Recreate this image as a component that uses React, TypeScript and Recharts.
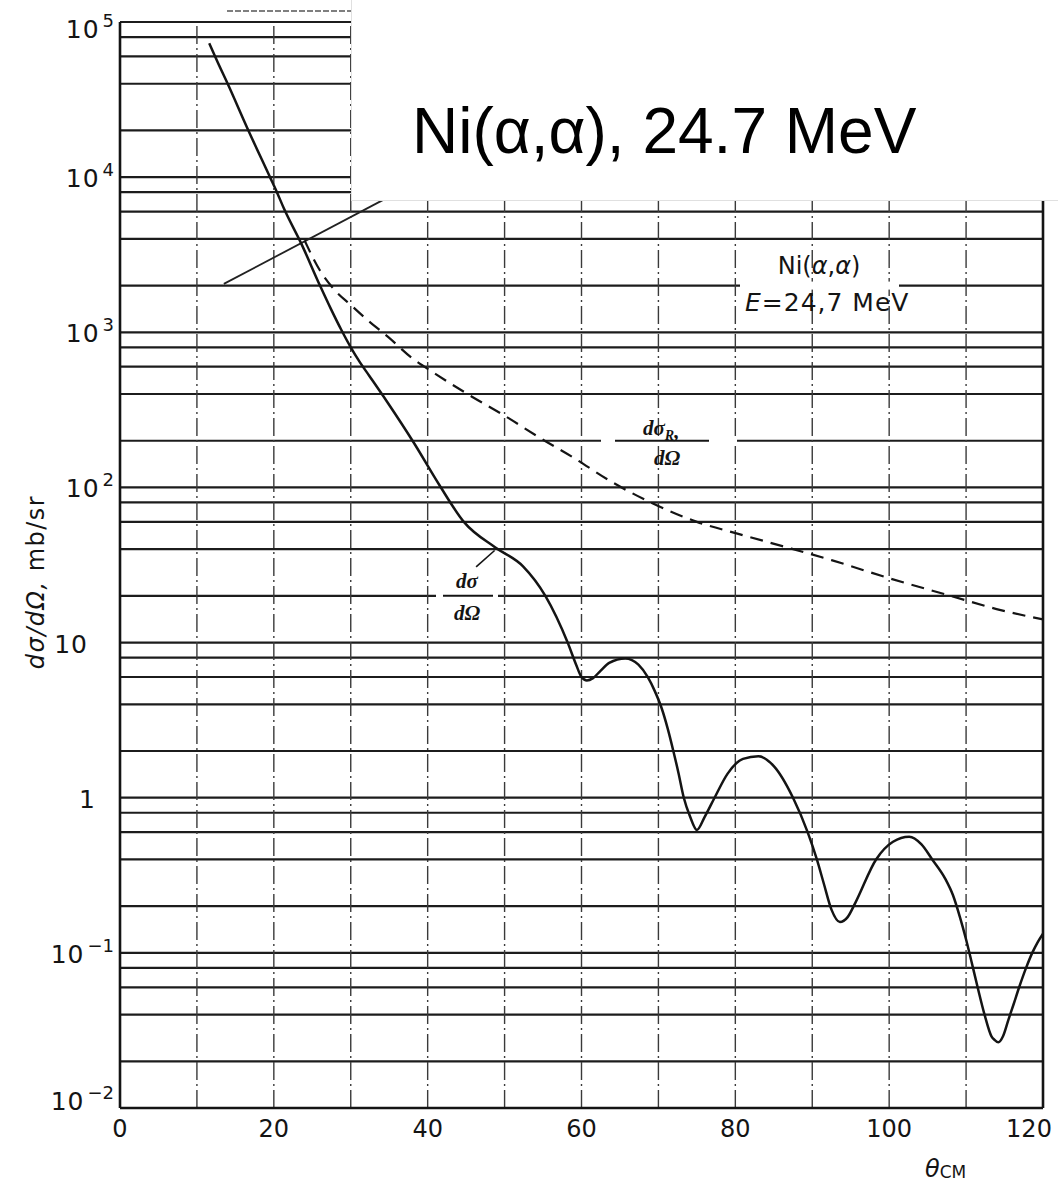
import React from 'react';
import { LineChart, Line, XAxis, YAxis, ReferenceLine } from 'recharts';

// ---------- data ----------
const sigmaTheta = [11.6, 12.7, 14, 16.5, 19.5, 20.4, 21.3, 23.6, 26, 27.4, 28.8, 30, 31.2, 32.4, 34.7, 38.2, 41.5, 44.7, 48.8, 52.4, 55.3, 58.2, 59.3, 60.0, 60.7, 61.5, 62.5, 63.6, 65.7, 67.4, 68.6, 69.5, 70.4, 71.2, 71.9, 72.6, 73.3, 74.1, 75, 76, 77.3, 79, 81, 83, 85, 87.5, 89.4, 90.6, 91.5, 92.5, 93.6, 94.6, 95.6, 98.3, 100.5, 102.6, 104.2, 105.6, 107.3, 108.3, 109.2, 110, 110.7, 111.5, 112.4, 113.3, 113.7, 114.2, 114.8, 115.5, 116.2, 116.9, 117.8, 118.6, 119.3, 120];
const sigmaValue = [73000, 55000, 40000, 21000, 10000, 8000, 6300, 3700, 2000, 1420, 1030, 800, 640, 525, 358, 194, 104, 60, 41, 31, 20, 10, 7.2, 6.0, 5.7, 5.9, 6.6, 7.4, 7.9, 7.2, 6.0, 4.9, 3.8, 2.8, 2.04, 1.45, 1.0, 0.76, 0.62, 0.75, 1.0, 1.43, 1.78, 1.85, 1.6, 1.0, 0.6, 0.4, 0.28, 0.19, 0.158, 0.17, 0.21, 0.4, 0.52, 0.56, 0.5, 0.4, 0.3, 0.235, 0.17, 0.122, 0.088, 0.06, 0.04, 0.029, 0.0275, 0.0265, 0.029, 0.037, 0.047, 0.06, 0.08, 0.1, 0.117, 0.133];

const rutherTheta = [24, 26, 28, 30, 32, 35, 38, 41, 45, 50, 54.5, 59, 64, 69, 75, 80.5, 86, 92.5, 100, 108, 114.5, 120];
const rutherValue = [3900, 2500, 1850, 1500, 1220, 920, 680, 540, 405, 290, 210, 155, 108, 80, 60, 50, 42, 34, 26, 20, 16.2, 14.1];

// stray pencil stroke on the scanned original
const strokeTheta = [13.5, 35.7];
const strokeValue = [2050, 7800];

const xTicks = [0, 20, 40, 60, 80, 100, 120];
const vGridTheta = [10, 20, 30, 40, 50, 60, 70, 80, 90, 100, 110];
const yTickValues = [0.01, 0.1, 1, 10, 100, 1000, 10000, 100000];
const yTickBase = ['10', '10', '1', '10', '10', '10', '10', '10'];
const yTickExp = ['\u22122', '\u22121', '', '', '2', '3', '4', '5'];
const gridMantissas = [1, 2, 4, 6, 8];
const gridDecades = [-2, -1, 0, 1, 2, 3, 4];

const sigmaData = sigmaTheta.map((t, i) => ({ theta: t, v: sigmaValue[i] }));
const rutherData = rutherTheta.map((t, i) => ({ theta: t, v: rutherValue[i] }));
const strokeData = strokeTheta.map((t, i) => ({ theta: t, v: strokeValue[i] }));
const gridValues: number[] = [];
gridDecades.forEach((d) => gridMantissas.forEach((m) => gridValues.push(Number((m * Math.pow(10, d)).toPrecision(3)))));
gridValues.push(100000);

// ---------- layout ----------
const W = 1058;
const H = 1184;
const PLOT_LEFT = 120;
const PLOT_RIGHT = 1043;
const PLOT_TOP = 22;
const PLOT_BOTTOM = 1108;
const xPx = (t: number) => PLOT_LEFT + (t / 120) * (PLOT_RIGHT - PLOT_LEFT);
const yPx = (v: number) => PLOT_TOP + ((5 - Math.log10(v)) / 7) * (PLOT_BOTTOM - PLOT_TOP);

const INK = '#141414';
const TICK_FONT = '"DejaVu Sans", sans-serif';
const SERIF_IT = '"Liberation Serif", "DejaVu Serif", serif';

const XTick = (props: any) => {
  const { x, y, payload } = props;
  const last = payload.value === xTicks[xTicks.length - 1];
  return (
    <text x={last ? x - 14 : x} y={y + 29} textAnchor="middle" fontFamily={TICK_FONT} fontSize={24} fill={INK}>
      {payload.value}
    </text>
  );
};

const YTick = (props: any) => {
  const { x, y, payload } = props;
  const idx = yTickValues.findIndex((v) => Math.abs(Math.log10(v) - Math.log10(payload.value)) < 1e-6);
  if (idx < 0) return null;
  const base = yTickBase[idx];
  const exp = yTickExp[idx];
  const dyBase = idx === yTickValues.length - 1 ? 16 : idx === 0 ? 2 : 10;
  if (exp) {
    return (
      <text x={x - 6} y={y + dyBase} textAnchor="end" fontFamily={TICK_FONT} fontSize={25} letterSpacing={1} fill={INK}>
        {base}
        <tspan dx={3} dy={-11} fontSize={18} letterSpacing={0}>{exp}</tspan>
      </text>
    );
  }
  const shift = base === '1' ? 24 : 32;
  return (
    <text x={x - shift} y={y + dyBase} textAnchor="end" fontFamily={TICK_FONT} fontSize={25} letterSpacing={1} fill={INK}>
      {base}
    </text>
  );
};

const Overlay = () => {
  const y2e3 = yPx(2000);
  const y2e2 = yPx(200);
  const y2e1 = yPx(20);
  const labelFont = '"DejaVu Sans", sans-serif';
  return (
    <svg width={W} height={H} style={{ position: 'absolute', left: 0, top: 0, pointerEvents: 'none' }}>
      {/* faint stroke above the frame */}
      <line x1={227} y1={11} x2={352} y2={11} stroke="#555" strokeWidth={1.4} strokeDasharray="6 2" />

      {/* Ni(a,a) E=24,7 MeV annotation inside the plot */}
      <rect x={740} y={y2e3 - 4} width={159} height={8} fill="#fff" />
      <text x={819} y={y2e3 - 12} textAnchor="middle" fontFamily={labelFont} fontSize={24} fill={INK}>
        Ni(<tspan fontStyle="italic">α</tspan>,<tspan fontStyle="italic">α</tspan>)
      </text>
      <text x={745} y={y2e3 + 25} fontFamily={labelFont} fontSize={25} fill={INK} letterSpacing={1}>
        <tspan fontStyle="italic">E</tspan>=24,7 MeV
      </text>

      {/* dσR/dΩ label */}
      <rect x={601} y={y2e2 - 4} width={136} height={8} fill="#fff" />
      <line x1={615} y1={y2e2} x2={709} y2={y2e2} stroke={INK} strokeWidth={2} />
      <text x={643} y={y2e2 - 6} fontFamily={SERIF_IT} fontStyle="italic" fontWeight={700} fontSize={21} fill={INK}>
        dσ<tspan dy={5} fontSize={14}>R</tspan><tspan dy={-2}>,</tspan>
      </text>
      <text x={667} y={y2e2 + 24} textAnchor="middle" fontFamily={SERIF_IT} fontStyle="italic" fontWeight={700} fontSize={21} fill={INK}>
        dΩ
      </text>

      {/* dσ/dΩ label */}
      <rect x={436} y={y2e1 - 4} width={62} height={8} fill="#fff" />
      <line x1={443} y1={y2e1} x2={493} y2={y2e1} stroke={INK} strokeWidth={2} />
      <text x={467} y={y2e1 - 8} textAnchor="middle" fontFamily={SERIF_IT} fontStyle="italic" fontWeight={700} fontSize={21} fill={INK}>
        dσ
      </text>
      <text x={467} y={y2e1 + 24} textAnchor="middle" fontFamily={SERIF_IT} fontStyle="italic" fontWeight={700} fontSize={21} fill={INK}>
        dΩ
      </text>
      <line x1={xPx(46.3)} y1={y2e1 - 29} x2={xPx(48.7)} y2={yPx(41) + 3} stroke={INK} strokeWidth={1.6} />

      {/* axis titles */}
      <text
        transform="translate(44, 582) rotate(-90)"
        textAnchor="middle"
        fontFamily={labelFont}
        fontSize={24}
        letterSpacing={1.5}
        fill={INK}
      >
        <tspan fontStyle="italic">dσ/dΩ,</tspan> mb/sr
      </text>
      <text x={925} y={1177} fontFamily={labelFont} fontSize={24} fill={INK}>
        <tspan fontStyle="italic">θ</tspan>
        <tspan fontSize={17} dy={1}>CM</tspan>
      </text>

      {/* title box pasted over the scan */}
      <rect x={351} y={0} width={W - 351} height={200} fill="#fff" />
      <line x1={351.5} y1={0} x2={351.5} y2={200} stroke="#e0e0e0" strokeWidth={1} />
      <line x1={351} y1={200.5} x2={W} y2={200.5} stroke="#e0e0e0" strokeWidth={1} />
      <text x={412} y={153} fontFamily='"Liberation Sans", Arial, sans-serif' fontSize={64} fill="#000">
        Ni(α,α), 24.7 MeV
      </text>
    </svg>
  );
};

export default function App() {
  return (
    <div style={{ position: 'absolute', left: 0, top: 0, width: W, height: H, background: '#fff', overflow: 'hidden' }}>
      <LineChart width={W} height={H} margin={{ top: PLOT_TOP, right: W - PLOT_RIGHT, bottom: 0, left: 0 }}>
        <XAxis
          dataKey="theta"
          type="number"
          domain={[0, 120]}
          ticks={xTicks}
          tick={XTick}
          tickLine={false}
          tickSize={0}
          tickMargin={0}
          height={H - PLOT_BOTTOM}
          axisLine={{ stroke: INK, strokeWidth: 2.6 }}
          allowDataOverflow
        />
        <YAxis
          type="number"
          scale="log"
          domain={[0.01, 100000]}
          ticks={yTickValues}
          tick={YTick}
          tickLine={false}
          tickSize={0}
          tickMargin={0}
          width={PLOT_LEFT}
          axisLine={{ stroke: INK, strokeWidth: 2.6 }}
          allowDataOverflow
        />
        {gridValues.map((v) => (
          <ReferenceLine key={'h' + v} y={v} stroke="#1c1c1c" strokeWidth={2.2} />
        ))}
        {vGridTheta.map((t) => (
          <ReferenceLine key={'v' + t} x={t} stroke="#3a3a3a" strokeWidth={1.4} strokeDasharray="18 4 2 4" />
        ))}
        <ReferenceLine x={120} stroke={INK} strokeWidth={2.6} />
        <Line
          data={strokeData}
          dataKey="v"
          type="linear"
          stroke="#222"
          strokeWidth={1.8}
          dot={false}
          isAnimationActive={false}
        />
        <Line
          data={rutherData}
          dataKey="v"
          type="monotone"
          stroke={INK}
          strokeWidth={2.2}
          strokeDasharray="13 8"
          dot={false}
          isAnimationActive={false}
        />
        <Line
          data={sigmaData}
          dataKey="v"
          type="monotone"
          stroke={INK}
          strokeWidth={2.5}
          dot={false}
          isAnimationActive={false}
        />
      </LineChart>
      <Overlay />
    </div>
  );
}
